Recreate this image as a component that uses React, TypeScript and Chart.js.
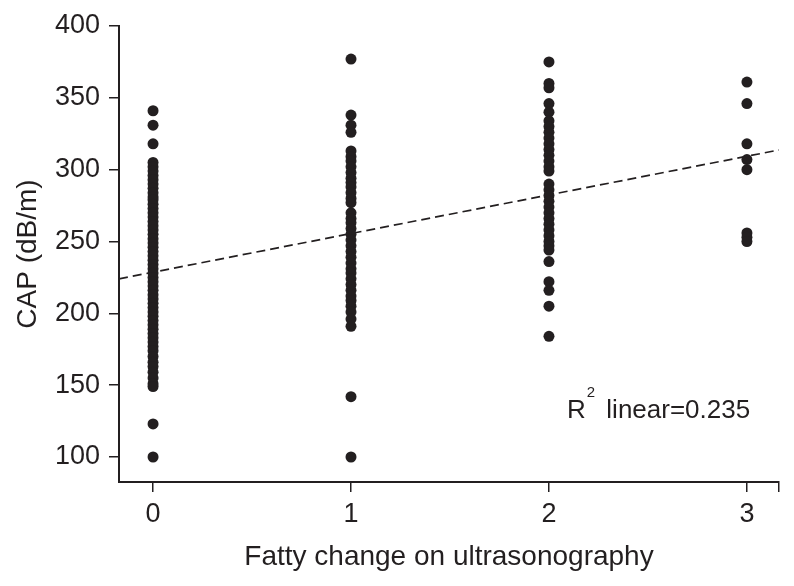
import React, { useEffect, useRef } from 'react';
import { Chart, registerables } from 'chart.js';

Chart.register(...registerables);

// ---- data ----
const categories = [0, 1, 2, 3];
const xTickLabels = ['0', '1', '2', '3'];
const yTickValues = [100, 150, 200, 250, 300, 350, 400];

const group0 = [
  341, 331, 318, 305, 302, 299, 296, 293, 290, 287, 284, 281, 279, 276, 273,
  270, 267, 264, 261, 258, 255, 252, 249, 246, 243, 240, 237, 234, 231, 228,
  225, 222, 219, 216, 213, 210, 207, 204, 201, 198, 195, 192, 189, 186, 183,
  180, 177, 174, 170, 166, 163, 159, 155, 151, 149, 123, 100,
];
const group1 = [
  377, 338, 331, 326, 313, 309, 306, 302, 298, 294, 291, 288, 284, 280, 277,
  270, 266, 263, 259, 255, 251, 247, 243, 239, 235, 231, 228, 224, 220, 216,
  212, 209, 205, 201, 196, 191, 142, 100,
];
const group2 = [
  375, 360, 357, 346, 340, 334, 330, 326, 322, 318, 314, 310, 306, 302, 299,
  290, 286, 282, 278, 274, 270, 266, 262, 258, 254, 250, 247, 244, 236, 222,
  216, 205, 184,
];
const group3 = [361, 346, 318, 307, 300, 256, 253, 250];

const trendX = [-0.172, 3.162];
const trendY = [224, 313.7];

const xMin = -0.172;
const xMax = 3.162;
const yMin = 82.6;
const yMax = 400;

const annotationMain = 'R';
const annotationSup = '2';
const annotationRest = ' linear=0.235';

const xTitle = 'Fatty change on ultrasonography';
const yTitle = 'CAP (dB/m)';

const INK = '#231f20';
const FONT = "'Liberation Sans', Arial, Helvetica, sans-serif";

const annotationPlugin = {
  id: 'r2label',
  afterDraw(chart: any) {
    const { ctx, chartArea } = chart;
    const x0 = chartArea.right - 212;
    const base = chartArea.bottom - 64;
    ctx.save();
    ctx.fillStyle = INK;
    ctx.textBaseline = 'alphabetic';
    ctx.textAlign = 'left';
    ctx.font = `26px ${FONT}`;
    ctx.fillText(annotationMain, x0, base);
    const w1 = ctx.measureText(annotationMain).width;
    ctx.font = `15px ${FONT}`;
    ctx.fillText(annotationSup, x0 + w1 + 1, base - 21);
    const w2 = ctx.measureText(annotationSup).width;
    ctx.font = `26px ${FONT}`;
    ctx.fillText(annotationRest, x0 + w1 + w2 + 5, base);
    ctx.restore();
  },
};

export default function App() {
  const ref = useRef<HTMLCanvasElement | null>(null);

  useEffect(() => {
    document.body.style.margin = '0';
    const canvas = ref.current;
    if (!canvas) return;

    const groups = [group0, group1, group2, group3];
    const points: { x: number; y: number }[] = [];
    groups.forEach((g, i) => {
      g.forEach((v) => points.push({ x: categories[i], y: v }));
    });
    const trend = trendX.map((x, i) => ({ x, y: trendY[i] }));

    const chart = new Chart(canvas, {
      type: 'scatter',
      data: {
        datasets: [
          {
            type: 'scatter',
            data: points,
            pointRadius: 5.5,
            pointHoverRadius: 5.5,
            pointBackgroundColor: INK,
            pointBorderColor: INK,
            pointBorderWidth: 0,
          } as any,
          {
            type: 'line',
            data: trend,
            borderColor: INK,
            borderWidth: 1.7,
            borderDash: [9, 5],
            pointRadius: 0,
            fill: false,
            showLine: true,
          } as any,
        ],
      },
      options: {
        animation: false,
        responsive: false,
        maintainAspectRatio: false,
        events: [],
        layout: { padding: { top: 26, right: 15, left: 0, bottom: 0 } },
        plugins: { legend: { display: false }, tooltip: { enabled: false } },
        scales: {
          x: {
            type: 'linear',
            min: xMin,
            max: xMax,
            afterBuildTicks: (s: any) => {
              s.ticks = [...categories.map((v) => ({ value: v })), { value: xMax }];
            },
            afterFit: (s: any) => {
              s.height = 104;
            },
            ticks: {
              autoSkip: false,
              maxRotation: 0,
              padding: 6,
              color: INK,
              font: { family: FONT, size: 27 },
              callback: (_v: any, i: number) => (i < xTickLabels.length ? xTickLabels[i] : ''),
            },
            grid: {
              drawOnChartArea: false,
              drawTicks: true,
              tickLength: 10,
              color: INK,
              lineWidth: 1.5,
            },
            border: { display: true, color: INK, width: 2 },
            title: {
              display: true,
              text: xTitle,
              color: INK,
              font: { family: FONT, size: 28 },
              padding: { top: 0, bottom: 12 },
            },
          },
          y: {
            type: 'linear',
            min: yMin,
            max: yMax,
            afterBuildTicks: (s: any) => {
              s.ticks = yTickValues.map((v) => ({ value: v }));
            },
            afterFit: (s: any) => {
              s.width = 119;
            },
            ticks: {
              autoSkip: false,
              padding: 9,
              color: INK,
              font: { family: FONT, size: 27 },
              callback: (v: any) => String(v),
            },
            grid: {
              drawOnChartArea: false,
              drawTicks: true,
              tickLength: 10,
              color: INK,
              lineWidth: 1.5,
            },
            border: { display: true, color: INK, width: 2 },
            title: {
              display: true,
              text: yTitle,
              color: INK,
              font: { family: FONT, size: 28 },
              padding: { top: 11, bottom: 0 },
            },
          },
        },
      } as any,
      plugins: [annotationPlugin],
    });

    return () => chart.destroy();
  }, []);

  return (
    <div style={{ width: 794, height: 586, background: '#fff' }}>
      <canvas ref={ref} width={794} height={586} style={{ display: 'block' }} />
    </div>
  );
}
